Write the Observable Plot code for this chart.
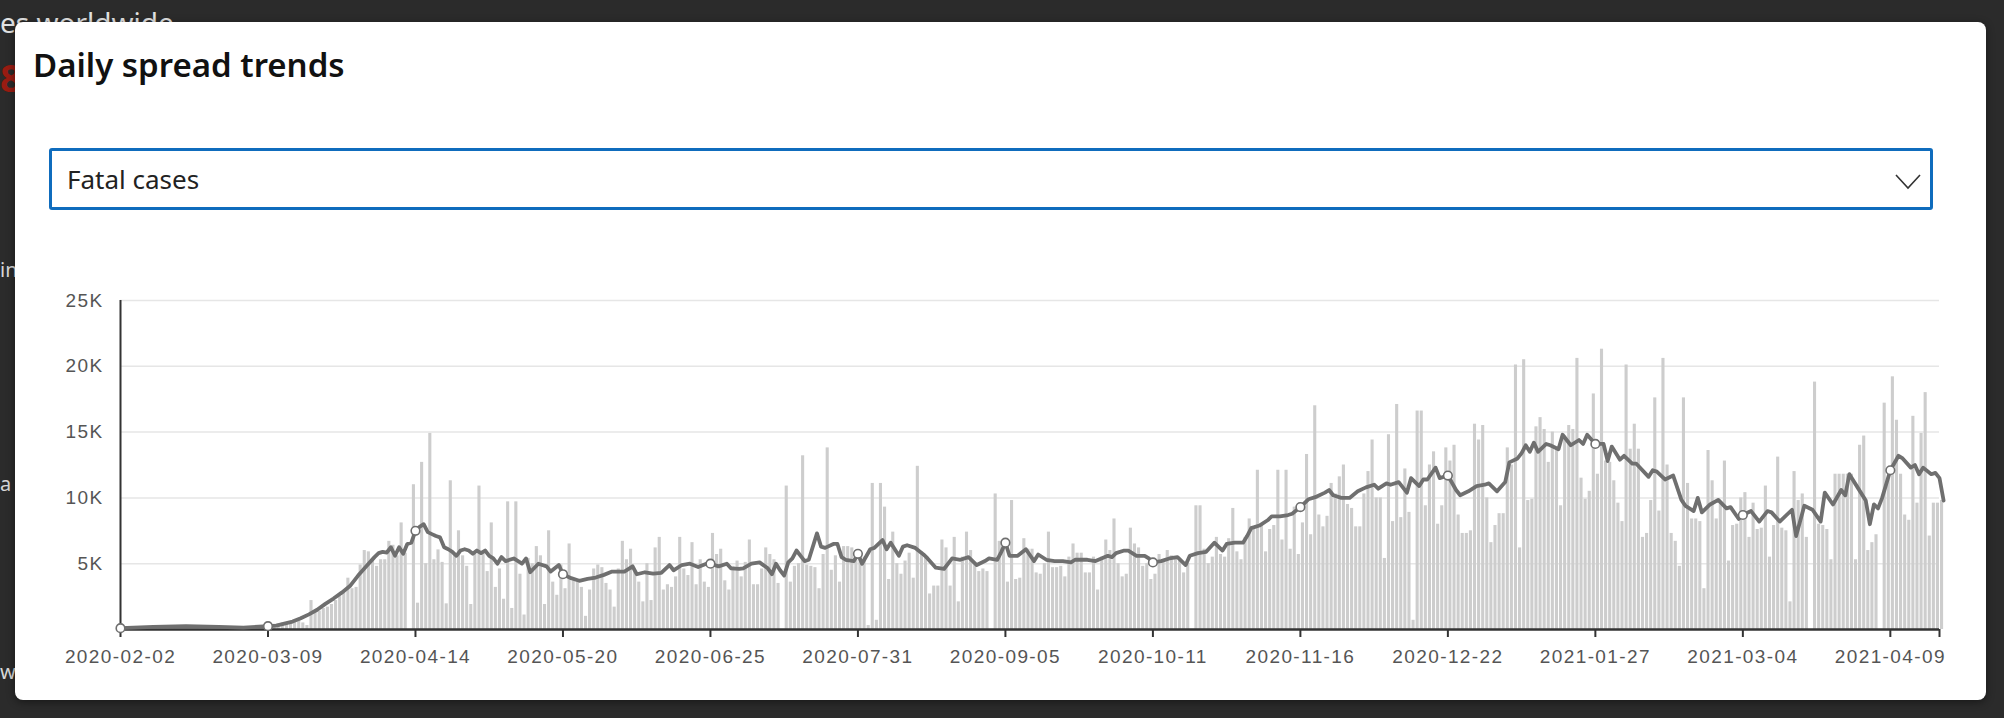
<!DOCTYPE html>
<html>
<head>
<meta charset="utf-8">
<script src="https://cdn.jsdelivr.net/npm/d3@7"></script>
<script src="https://cdn.jsdelivr.net/npm/@observablehq/plot@0.6"></script>
<style>
html,body{margin:0;padding:0;}
body{width:2004px;height:718px;background:#2b2b2b;position:relative;overflow:hidden;font-family:"Noto Sans",sans-serif;}
.abs{position:absolute;}
#bgtext{left:0px;top:8px;font-size:28px;line-height:1;color:#e2e2e2;white-space:nowrap;}
#bgred{left:0px;top:58px;font-size:38px;line-height:1;color:#9a1c12;font-weight:700;}
.bgfrag{left:0px;font-size:20px;line-height:1;color:#d8d8d8;}
#dialog{left:15px;top:22px;width:1971px;height:678px;background:#fff;border-radius:8px;box-shadow:0 2px 8px rgba(0,0,0,0.45);}
#title{left:33px;top:48px;font-size:33px;line-height:1;font-weight:600;color:#111;white-space:nowrap;}
#select{left:49px;top:148px;width:1884px;height:62px;box-sizing:border-box;border:3px solid #0f6cbd;border-radius:3px;background:#fff;}
#seltext{left:15px;top:15px;font-size:26px;line-height:1;color:#222;white-space:nowrap;}
#chev{left:1842px;top:22px;}
#chart{left:0;top:0;width:2004px;height:718px;pointer-events:none;}
#chart svg text{letter-spacing:1.4px;}
</style>
</head>
<body>
<div id="bgtext" class="abs">es worldwide</div>
<div id="bgred" class="abs">8</div>
<div class="abs bgfrag" style="top:260px">in</div>
<div class="abs bgfrag" style="top:474px">a</div>
<div class="abs bgfrag" style="top:662px">w</div>
<div id="dialog" class="abs"></div>
<div id="title" class="abs">Daily spread trends</div>
<div id="select" class="abs"><span id="seltext" class="abs">Fatal cases</span>
<svg id="chev" class="abs" width="28" height="18"><polyline points="2,2 14,15 26,2" fill="none" stroke="#333" stroke-width="1.6"/></svg></div>
<div id="chart" class="abs"></div>
<script>
// Dates
const firstDate = "2020-02-02";
const lastDate = "2021-04-21";
const dailyFirstDate = "2020-03-09";
const tickLabels = ["2020-02-02","2020-03-09","2020-04-14","2020-05-20","2020-06-25","2020-07-31","2020-09-05","2020-10-11","2020-11-16","2020-12-22","2021-01-27","2021-03-04","2021-04-09"];
const yTicksK = [5,10,15,20,25];

// Daily fatal cases (thousands), one per day from 2020-03-09 to 2021-04-21
const dailyFatalK = [
0.3,0.3,0.4,0.4,0.5,0.5,0.6,0.7,0.8,0.5,0.3,
2.2,
1.3,1.4,1.6,1.7,1.9,2.2,2.5,2.8,3.9,3.1,3.2,
4.9,6.0,5.9,5.4,4.8,5.3,5.3,6.7,6.4,5.6,8.1,5.8,
0,11.0,2.0,12.7,5.0,14.9,5.3,6.05,5.1,1.95,
11.3,5.75,7.5,5.6,4.8,1.9,5.7,10.9,
5.75,4.4,8.1,3.2,4.6,2.3,
9.7,1.6,9.7,4.2,1.1,5.4,5.0,6.3,5.6,1.9,7.5,3.6,2.6,4.9,3.1,6.5,3.7,3.7,3.2,1.0,
3.0,4.6,4.9,4.7,3.5,3.0,1.7,4.6,6.7,5.3,6.1,4.4,3.6,2.1,5.0,2.2,6.2,7.0,3.0,3.4,
3.2,4.0,7.0,4.6,4.1,6.6,3.4,5.3,3.6,3.2,7.3,5.7,6.1,3.7,3.0,4.8,5.2,4.0,5.1,6.8,3.4,
3.4,4.6,6.2,5.7,5.3,3.5,0,10.9,3.6,4.8,5.0,13.2,4.9,4.8,4.7,3.1,5.7,13.8,4.5,5.6,
3.6,6.3,6.3,6.2,6.0,5.4,5.5,0.3,11.1,0.7,11.1,9.3,3.8,7.4,5.0,4.2,5.2,5.8,3.9,12.4,
5.9,5.4,2.7,3.3,3.3,6.8,6.2,3.3,7.0,2.1,5.5,7.4,6.0,4.9,4.4,4.6,4.4,0,10.3,6.7,6.6,
3.6,
9.8,3.8,3.9,6.9,6.1,6.1,4.3,4.2,5.0,7.4,4.7,4.7,4.8,4.0,5.5,6.5,5.8,5.8,4.3,4.3,
5.5,3.0,5.5,6.8,6.0,8.4,5.0,4.0,4.2,7.7,6.5,6.2,4.8,5.0,3.8,4.2,5.7,5.1,6.0,5.6,
5.5,5.2,4.3,5.0,0,9.4,9.4,6.1,5.0,5.5,7.0,5.7,5.5,6.9,9.2,5.9,5.3,7.0,8.4,7.8,
12.1,8.0,5.9,7.6,7.9,12.1,6.8,12.1,6.1,9.3,5.7,8.1,13.3,7.2,17.0,8.7,7.8,8.6,11.1,10.3,
11.6,12.5,9.5,9.2,7.8,7.8,10.3,12.0,14.4,10.0,10.0,5.4,14.8,8.2,17.1,8.5,12.2,8.9,0.7,16.6,
16.6,9.4,12.5,13.5,8.0,9.4,13.8,12.8,14.0,8.7,7.3,7.3,7.5,15.6,14.4,15.5,10.0,6.6,7.9,8.8,
8.8,13.8,12.5,20.1,6.2,20.5,9.8,9.9,15.4,16.1,15.2,12.7,15.0,13.8,9.4,14.7,15.5,15.2,20.6,11.5,
9.9,10.5,17.9,11.8,21.3,12.8,12.7,11.3,9.6,8.2,20.1,13.7,15.6,13.7,7.0,7.3,9.8,17.6,9.0,20.6,
12.5,7.3,6.7,4.8,17.6,11.1,8.4,8.4,8.2,3.1,13.6,11.3,8.4,9.7,12.8,5.2,7.9,8.0,10.0,10.4,
7.0,9.6,7.6,7.7,10.9,5.5,7.9,13.1,7.7,7.5,2.1,12.0,9.8,10.3,7.0,0,18.8,8.0,7.9,7.6,
5.3,11.8,11.8,11.8,11.8,11.8,5.3,14.0,14.7,6.0,6.6,7.2,0,17.2,11.5,19.2,15.9,11.8,8.7,8.3,
16.2,9.6,14.9,18.0,7.1,9.6,9.6,9.8
];

// Rolling average line (thousands): [days after 2020-02-02, value]
const avgFatalK = [
[0,0.1],[8,0.2],[16,0.25],[24,0.2],[30,0.15],[36,0.25],[38,0.3],[40,0.45],[42,0.6],[44,0.85],[46,1.15],[48,1.5],[50,1.95],[52,2.35],[54,2.8],[56,3.3],[58,4.1],[60,4.8],[62,5.5],[63,5.8],[64,5.9],[65,5.85],[66,6.25],[67,5.6],[68,6.25],[69,5.75],[70,6.5],[71,6.6],[72,7.5],[73,7.8],[74,8.0],[75,7.4],[76,7.25],[77,7.1],[78,7.0],[79,6.25],[80,6.1],[81,5.9],[82,5.6],[83,6.0],[84,6.1],[85,6.0],[86,5.75],[87,6.0],[88,5.8],[89,6.0],[90,5.6],[91,5.4],[92,5.0],[93,5.5],[94,5.2],[96,5.4],[98,5.0],[99,5.4],[100,4.35],
[102,5.0],[104,4.8],[105,4.4],[107,4.9],[108,4.2],[110,3.9],[112,3.7],[114,3.85],[116,3.95],[118,4.15],[120,4.4],[121,4.4],[123,4.4],[125,4.8],[126,4.2],[128,4.35],[130,4.25],[132,4.3],[134,4.9],[135,4.5],[137,4.9],[139,5.0],[141,4.75],[143,5.0],[144,5.0],[146,4.8],[148,5.0],[149,4.65],[151,4.6],[152,4.65],[154,5.0],[156,5.1],[158,4.65],[159,4.2],[160,5.0],[161,4.5],[162,4.1],[163,5.1],[164,5.4],[165,6.0],[167,5.2],[168,5.3],[170,7.3],[171,6.3],[172,6.2],[174,6.5],[175,6.5],[176,5.5],[177,5.3],[179,5.2],[180,5.75],[181,5.0],[183,6.1],[184,6.2],[186,6.8],[187,6.1],[188,6.6],[190,5.6],[191,6.3],[192,6.4],[194,6.2],[196,5.7],[197,5.4],[199,4.7],[201,4.6],[203,5.4],[205,5.3],[207,5.5],[209,4.9],[211,5.2],[212,5.4],[214,5.3],[215,5.9],[216,6.6],
[217,5.6],[219,5.6],[221,6.1],[223,5.2],[224,5.7],[226,5.3],[228,5.2],[230,5.2],[232,5.1],[233,5.3],[236,5.3],[238,5.2],[241,5.6],[242,5.5],[243,5.8],[245,6.0],[246,6.0],[248,5.6],[250,5.6],[251,5.4],[252,5.1],[254,5.2],[256,5.4],[258,5.5],[260,4.9],[261,5.6],[263,5.8],[265,5.9],[267,6.6],[269,6.0],[270,6.5],[272,6.6],[274,6.6],[275,7.1],[276,7.7],[278,7.9],[280,8.3],[281,8.6],[283,8.6],[285,8.7],[286,8.8],[288,9.3],[290,9.9],[292,10.1],[294,10.4],[295,10.6],[296,10.2],[298,10.0],[300,10.0],[302,10.5],[304,10.8],[306,11.0],[307,10.7],[309,11.1],[310,11.0],[312,11.2],[314,10.4],[315,11.5],[317,10.9],[318,11.4],[319,11.4],[321,12.3],[322,11.5],[324,11.7],[326,10.6],[327,10.2],[329,10.5],[331,10.9],[333,11.0],[334,11.1],[336,10.5],
[338,11.2],[339,12.7],[341,13.0],[342,13.4],[343,14.0],[344,13.5],[345,14.2],[346,13.5],[348,14.1],[349,14.0],[351,13.7],[352,14.8],[354,14.0],[356,14.4],[357,14.1],[358,14.8],[360,14.1],[362,14.1],[363,12.8],[364,13.9],[366,12.9],[367,13.2],[369,12.6],[370,12.6],[373,11.6],[374,12.1],[375,12.0],[377,11.4],[379,11.7],[381,9.85],[382,9.4],[384,9.0],[385,10.0],[386,8.9],[388,9.5],[390,9.85],[392,9.2],[393,9.3],[395,8.4],[396,8.7],[398,9.0],[400,8.2],[402,9.0],[403,8.9],[405,8.2],[408,9.1],[409,7.1],[411,9.4],[413,9.1],[415,8.2],[416,10.4],[418,9.5],[420,10.6],[421,10.2],[422,11.8],[424,10.8],[426,9.8],[427,8.0],[428,9.5],[429,9.2],[430,10.0],[432,12.1],[434,13.2],[435,13.0],[437,12.3],[438,12.5],[439,11.8],[440,12.3],[442,11.8],[443,11.9],[444,11.5],[445,9.8]
];

const parse = s => new Date(s + "T00:00:00Z");
const t0 = parse(firstDate);
const dayAfter = (base, n) => d3.utcDay.offset(base, n);
const d0 = parse(dailyFirstDate);

const bars = dailyFatalK.map((v, i) => ({x1: dayAfter(d0, i - 1), x2: dayAfter(d0, i), v}));
const avg = avgFatalK.map(([n, v]) => ({x: dayAfter(t0, n), v}));
const tickDates = tickLabels.map(parse);
const tickSet = new Set(tickDates.map(d => +d));
const dots = avg.filter(p => tickSet.has(+p.x));
const endDate = parse(lastDate);
const fmt = d3.utcFormat("%Y-%m-%d");

const chart = Plot.plot({
  width: 2004,
  height: 718,
  marginLeft: 120,
  marginRight: 65,
  marginTop: 300,
  marginBottom: 89,
  style: {background: "transparent", fontFamily: "'Liberation Sans', Arial, sans-serif", fontSize: "19px", overflow: "visible"},
  x: {type: "utc", domain: [t0, endDate], label: null},
  y: {domain: [0, 25], label: null},
  marks: [
    Plot.gridY({ticks: yTicksK, stroke: "#e6e6e6", strokeOpacity: 1, strokeWidth: 1.5}),
    Plot.rectY(bars, {x1: "x1", x2: "x2", y: "v", fill: "#cdcdcd", insetLeft: 1}),
    Plot.ruleY([0], {stroke: "#333", strokeWidth: 2.5}),
    Plot.ruleX([t0], {y1: 0, y2: 25, stroke: "#333", strokeWidth: 2}),
    Plot.axisX({ticks: [...tickDates, endDate], tickSize: 8, tickPadding: 12, tickFormat: d => tickSet.has(+d) ? fmt(d) : "", stroke: "#333", strokeWidth: 2, fill: "#555", label: null}),
    Plot.axisY({ticks: yTicksK, tickSize: 0, tickPadding: 17, tickFormat: d => d + "K", fill: "#555", label: null}),
    Plot.line(avg, {x: "x", y: "v", stroke: "#6f6f6f", strokeWidth: 3.8, strokeLinejoin: "round", strokeLinecap: "round"}),
    Plot.dot(dots, {x: "x", y: "v", r: 4.3, fill: "white", stroke: "#6f6f6f", strokeWidth: 1.6})
  ]
});
document.getElementById("chart").appendChild(chart);
</script>
</body>
</html>
